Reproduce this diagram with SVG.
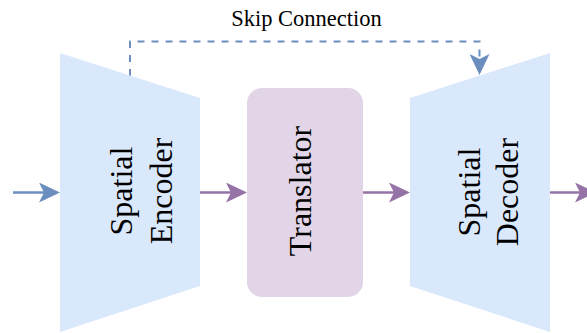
<svg xmlns="http://www.w3.org/2000/svg" width="587" height="333" viewBox="0 0 587 333">
<style>
.lbl{font-family:"Liberation Serif","Times New Roman",serif;font-size:32px;fill:#000;text-anchor:middle}
.skip{font-family:"Liberation Serif","Times New Roman",serif;font-size:22.5px;fill:#000;text-anchor:middle}
.blue{fill:#dae8fc}
.purple{fill:#e1d5e7}
.cb{stroke:#6c8ebf;stroke-width:2.5;fill:none}
.cp{stroke:#9673a6;stroke-width:2.5;fill:none}
.dash{stroke:#6c8ebf;stroke-width:2;fill:none;stroke-dasharray:7 7}
</style>
<defs>
<marker id="ab" viewBox="0 0 21 20" refX="5" refY="10" markerWidth="21" markerHeight="20" markerUnits="userSpaceOnUse" orient="auto"><path d="M21,10 L0,0 L5,10 L0,20 Z" fill="#6c8ebf"/></marker>
<marker id="ap" viewBox="0 0 21 20" refX="5" refY="10" markerWidth="21" markerHeight="20" markerUnits="userSpaceOnUse" orient="auto"><path d="M21,10 L0,0 L5,10 L0,20 Z" fill="#9673a6"/></marker>
</defs>
<g id="connectors">
<line class="cb" x1="13" y1="192.5" x2="44" y2="192.5" marker-end="url(#ab)"/>
<line class="cp" x1="200" y1="192.5" x2="231" y2="192.5" marker-end="url(#ap)"/>
<line class="cp" x1="363" y1="192.5" x2="394" y2="192.5" marker-end="url(#ap)"/>
<line class="cp" x1="550" y1="192.5" x2="580" y2="192.5" marker-end="url(#ap)"/>
<path class="dash" d="M130,76 V41.5 H479.5 V59" marker-end="url(#ab)"/>
<text class="skip" x="306.5" y="25.5">Skip Connection</text>
</g>
<g id="encoder">
<polygon class="blue" points="60,53 200,98 200,286 60,332"/>
<text class="lbl" transform="translate(132,191) rotate(-90)">Spatial</text>
<text class="lbl" transform="translate(172,191) rotate(-90)">Encoder</text>
</g>
<g id="translator">
<rect class="purple" x="247" y="88" width="116" height="209" rx="15" ry="15"/>
<text class="lbl" transform="translate(311,191) rotate(-90)">Translator</text>
</g>
<g id="decoder">
<polygon class="blue" points="410,98 550,53 550,332 410,286"/>
<text class="lbl" transform="translate(480,192) rotate(-90)">Spatial</text>
<text class="lbl" transform="translate(518,192) rotate(-90)">Decoder</text>
</g>
</svg>
